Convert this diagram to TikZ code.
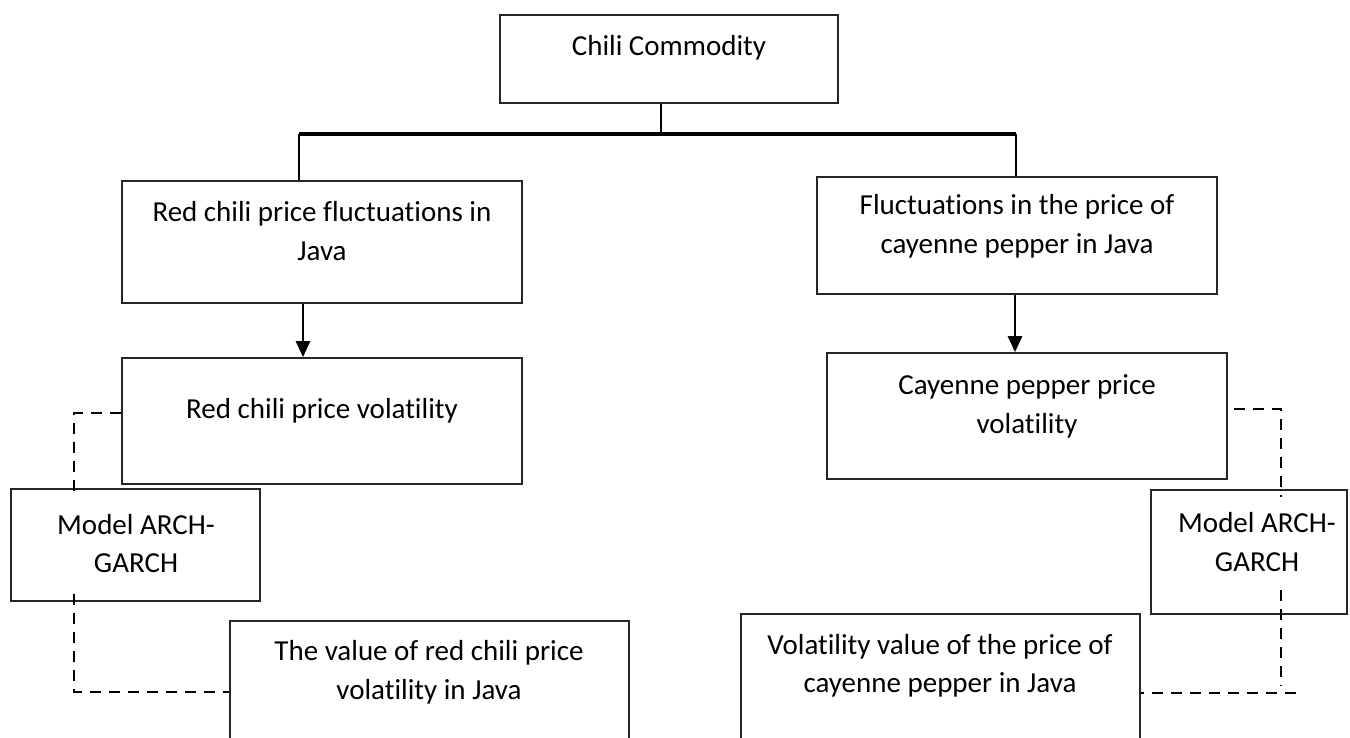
\documentclass[tikz,border=0pt]{standalone}
\usepackage{fontspec}
\setmainfont{Carlito}[Ligatures=NoCommon]
\usetikzlibrary{arrows.meta}
\begin{document}
\begin{tikzpicture}[x=1pt,y=-1pt,
  box/.style={draw=black!85, line width=1.6pt, rectangle, inner sep=0pt},
  txt/.style={align=center, inner sep=0pt, font=\fontsize{29}{38.5}\selectfont},
  conn/.style={line width=2.6pt, black},
  bar/.style={line width=3.2pt, black},
  arr/.style={line width=2.6pt, black, -{Triangle[width=14pt,length=16pt]}},
  dline/.style={line width=2.6pt, black, dash pattern=on 11pt off 8pt},
  cover/.style={txt, fill=white, inner xsep=6pt, minimum height=91pt}]
\useasboundingbox[fill=white] (0,0) rectangle (1350,738);

% boxes
\node[box, minimum width=338pt, minimum height=88pt] (top) at (669,59) {};
\node[txt] (topt) at (669,48) {Chili Commodity};

\node[box, minimum width=400pt, minimum height=122pt] (f1) at (322,242) {};
\node[txt] (f1t) at (322,231) {Red chili price fluctuations in\\Java};

\node[box, minimum width=400pt, minimum height=117pt] (f2) at (1017,235.5) {};
\node[txt] (f2t) at (1017,226.5) {Fluctuations in the price of\\cayenne pepper in Java};

\node[box, minimum width=400pt, minimum height=126pt] (v1) at (322,421) {};
\node[txt] (v1t) at (322,411) {Red chili price volatility};

\node[box, minimum width=400pt, minimum height=126pt] (v2) at (1027,416) {};
\node[txt] (v2t) at (1027,406.5) {Cayenne pepper price\\volatility};

\node[box, minimum width=249pt, minimum height=112pt] (m1) at (135.5,545) {};
\node[box, minimum width=196pt, minimum height=124pt] (m2) at (1249,552) {};

\node[box, minimum width=399pt, minimum height=160pt] (r1) at (429.5,701) {};
\node[txt] (r1t) at (429,672.5) {The value of red chili price\\volatility in Java};

\node[box, minimum width=399pt, minimum height=166pt] (r2) at (940.5,697) {};
\node[txt] (r2t) at (940,666) {Volatility value of the price of\\cayenne pepper in Java};

% tree connectors
\coordinate (jx) at (661,134);
\coordinate (bl) at (299,134);
\coordinate (br) at (1016,134);
\draw[conn] (jx |- top.south) -- (jx);
\draw[bar] (bl) -- (br);
\draw[conn] (bl) -- (bl |- f1.north);
\draw[conn] (br) -- (br |- f2.north);

\coordinate (a1) at (303,0);
\coordinate (a2) at (1015,0);
\draw[arr] (a1 |- f1.south) -- (a1 |- v1.north);
\draw[arr] (a2 |- f2.south) -- (a2 |- v2.north);

% dashed connectors
\coordinate (d1) at (74,413);
\coordinate (d2) at (74,692);
\draw[dline] (v1.west |- d1) -- (d1) -- (d2) -- (r1.west |- d2);

\coordinate (e1) at (1281,409);
\coordinate (e2) at (1281,686);
\coordinate (e3) at (1296,693);
\draw[dline, shorten <=6pt] (v2.east |- e1) -- (e1) -- (e2);
\draw[dline] (e3) -- (r2.east |- e3);

% model texts (white backing hides the dashed line)
\node[cover] (m1t) at (136,543.5) {Model ARCH-\\GARCH};
\node[cover] (m2t) at (1257,542) {Model ARCH-\\GARCH};
\end{tikzpicture}
\end{document}
